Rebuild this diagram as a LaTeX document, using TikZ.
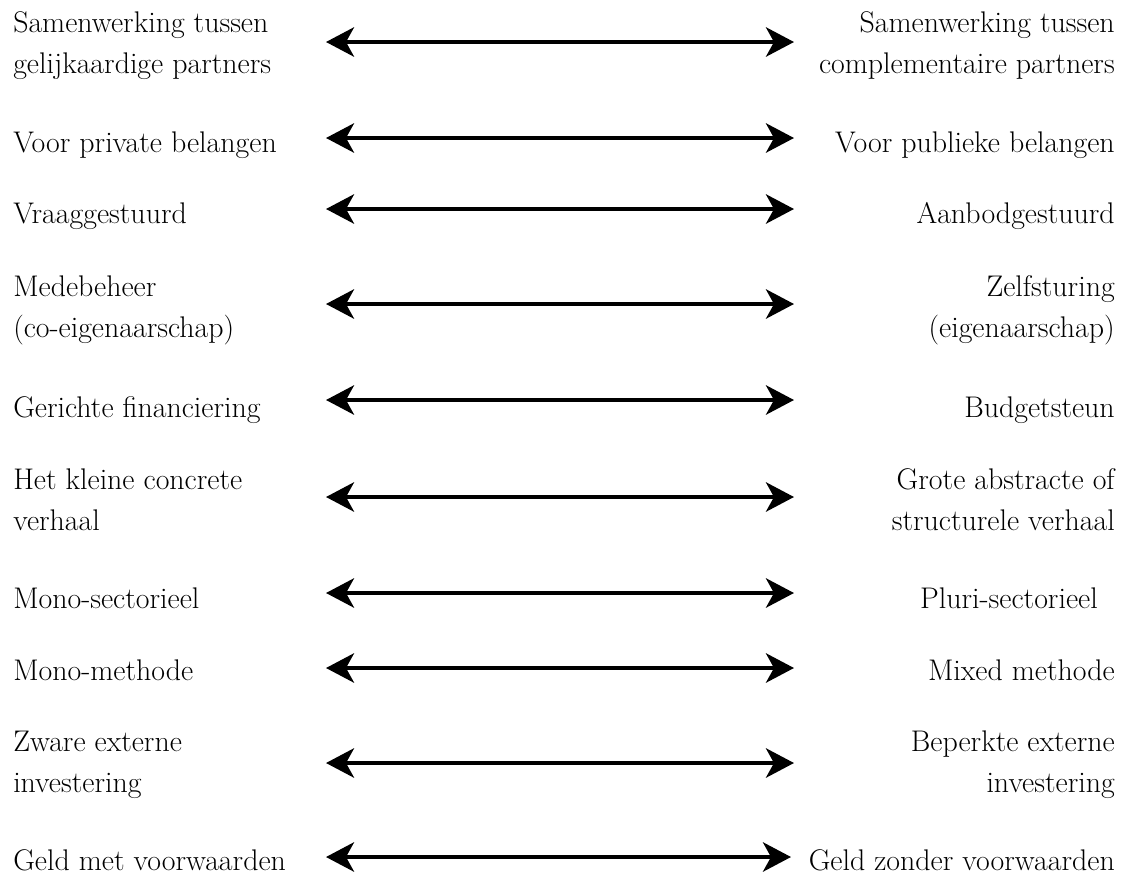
\documentclass[tikz,border=0pt]{standalone}
\usepackage{tikz}
\usetikzlibrary{arrows.meta}

\tikzset{
  pole/.style={inner sep=0pt, font=\fontsize{22.4}{30.75}\selectfont},
  leftpole/.style={pole, anchor=base west, align=left},
  rightpole/.style={pole, anchor=base east, align=right},
  twoway/.style={line width=3pt, {Stealth[length=21pt,width=22pt,inset=6pt]}-{Stealth[length=21pt,width=22pt,inset=6pt]}}
}

\begin{document}
\begin{tikzpicture}[x=0.75pt,y=-0.75pt]
  \useasboundingbox (0,0) rectangle (1122,879);
  \foreach \n/\ya/\yb/\xe/\xr/\ltext/\rtext in {
    1/42/73/794/1115/{Samenwerking tussen\\gelijkaardige partners}/{Samenwerking tussen\\complementaire partners},
    2/138/152/794/1115/{Voor private belangen}/{Voor publieke belangen},
    3/209/223/794/1115/{Vraaggestuurd}/{Aanbodgestuurd},
    4/304/337/794/1115/{Medebeheer\\(co-eigenaarschap)}/{Zelfsturing\\(eigenaarschap)},
    5/400/417/794/1115/{Gerichte financiering}/{Budgetsteun},
    6/497/530/794/1115/{Het kleine concrete\\verhaal}/{Grote abstracte of\\structurele verhaal},
    7/593/608/794/1098/{Mono-sectorieel}/{Pluri-sectorieel},
    8/668/680/794/1115/{Mono-methode}/{Mixed methode},
    9/763/792/794/1115/{Zware externe\\investering}/{Beperkte externe\\investering},
    10/857/870/791/1115/{Geld met voorwaarden}/{Geld zonder voorwaarden}} {
    \node[leftpole] (left\n) at (13,\yb) {\ltext};
    \node[rightpole] (right\n) at (\xr,\yb) {\rtext};
    \coordinate (from\n) at (326,\ya);
    \coordinate (to\n) at (\xe,\ya);
    \draw[twoway] (from\n) -- (to\n);
  }
\end{tikzpicture}
\end{document}
